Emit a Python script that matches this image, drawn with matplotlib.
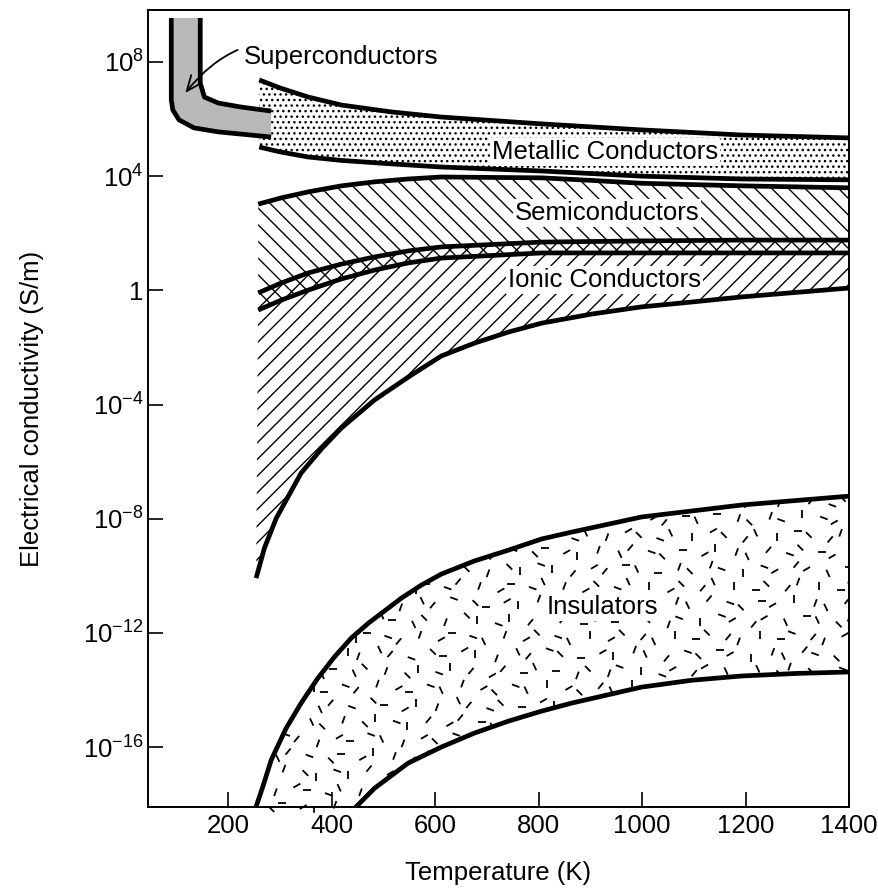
import numpy as np
import matplotlib
matplotlib.use("Agg")
import matplotlib.pyplot as plt
from matplotlib.collections import LineCollection
from matplotlib.ticker import NullLocator

plt.rcParams['font.family'] = ['Liberation Sans', 'DejaVu Sans']
plt.rcParams['mathtext.fontset'] = 'custom'
plt.rcParams['mathtext.rm'] = 'Liberation Sans'
plt.rcParams['hatch.linewidth'] = 1.0

# Temperatures in K, conductivities as log10(S/m)
super_outer_T = [90, 90, 93, 105, 134, 181, 283]
super_outer_s = [9.54, 6.67, 6.32, 5.97, 5.69, 5.55, 5.37]
super_inner_T = [146, 146, 154, 181, 225, 283]
super_inner_s = [9.54, 7.26, 6.77, 6.56, 6.42, 6.28]

metal_T = [260, 300, 355, 419, 515, 612, 806, 999, 1193, 1400]
metal_top = [7.37, 7.09, 6.77, 6.49, 6.25, 6.07, 5.83, 5.62, 5.44, 5.34]
metal_bot = [5.02, 4.85, 4.67, 4.55, 4.43, 4.32, 4.18, 4.00, 3.90, 3.87]

band_T = [258, 303, 355, 419, 483, 548, 612, 806, 903, 999, 1193, 1400]
semi_top = [3.02, 3.24, 3.45, 3.66, 3.80, 3.90, 3.97, 3.94, 3.85, 3.75, 3.66, 3.59]
semi_bot = [-0.69, -0.34, 0.01, 0.40, 0.71, 0.96, 1.13, 1.31, 1.31, 1.31, 1.31, 1.31]
ionic_top = [-0.09, 0.26, 0.61, 0.92, 1.17, 1.38, 1.52, 1.69, 1.71, 1.73, 1.76, 1.76]

ionic_bot_T = [254, 270, 293, 341, 380, 419, 483, 548, 612, 676, 742, 806, 903, 999,
               1096, 1193, 1400]
ionic_bot = [-10.08, -9.03, -7.98, -6.40, -5.56, -4.82, -3.84, -3.04, -2.30, -1.85,
             -1.46, -1.15, -0.83, -0.58, -0.41, -0.23, 0.08]

ins_top_T = [250, 268, 283, 312, 341, 372, 405, 438, 471, 535, 573, 612, 676, 742, 806,
             864, 999, 1193, 1400]
ins_top = [-18.3, -17.33, -16.46, -15.34, -14.46, -13.62, -12.85, -12.18, -11.66, -10.78,
           -10.33, -9.94, -9.48, -9.10, -8.71, -8.47, -7.94, -7.52, -7.21]
ins_bot_T = [436, 483, 548, 612, 676, 742, 806, 864, 999, 1096, 1193, 1300, 1400]
ins_bot = [-18.3, -17.44, -16.56, -16.00, -15.51, -15.09, -14.74, -14.46, -13.90, -13.66,
           -13.51, -13.42, -13.37]

xticks = [200, 400, 600, 800, 1000, 1200, 1400]
ytick_exps = [-16, -12, -8, -4, 0, 4, 8]
ytick_labels = [r'$\mathregular{10^{%d}}$' % e if e != 0 else '1' for e in ytick_exps]

FS = 18.5
LW = 3.4

fig = plt.figure(figsize=(8.79, 8.93), dpi=100)
ax = fig.add_axes([148 / 879, 1 - 807 / 893, (849 - 148) / 879, (807 - 10) / 893])
ax.set_yscale('log')


def p(v):
    return 10.0 ** np.asarray(v)


def outline(xs, ys):
    ax.plot(xs, p(ys), color='black', lw=LW, solid_capstyle='butt',
            solid_joinstyle='round', zorder=3)


# metallic conductors (dots)
ax.fill_between(metal_T, p(metal_bot), p(metal_top), facecolor='white',
                edgecolor='black', hatch='...', linewidth=0, zorder=1)
outline(metal_T, metal_top)
outline(metal_T, metal_bot)

# superconductors (grey)
sx = super_outer_T + super_inner_T[::-1]
sy = super_outer_s + super_inner_s[::-1]
ax.fill(sx, p(sy), facecolor='#b9b9b9', edgecolor='none', zorder=2)
outline(super_outer_T, super_outer_s)
outline(super_inner_T, super_inner_s)

# semiconductors and ionic conductors (hatched, overlap cross-hatched)
ax.fill_between(band_T, p(semi_bot), p(semi_top), facecolor='none',
                edgecolor='black', hatch='\\\\', linewidth=0, zorder=1)
ix = band_T + ionic_bot_T[::-1]
iy = ionic_top + ionic_bot[::-1]
ax.fill(ix, p(iy), facecolor='none', edgecolor='black', hatch='//', linewidth=0, zorder=1)
outline(band_T, semi_top)
outline(band_T, semi_bot)
outline(band_T, ionic_top)
outline(ionic_bot_T, ionic_bot)

# insulators (short dashes texture clipped to the band)
ins_patch = ax.fill(ins_top_T + ins_bot_T[::-1], p(ins_top + ins_bot[::-1]),
                    facecolor='white', edgecolor='none', zorder=1)[0]
W, H = 701.0, 797.0
step = 17.0
angles = [0, 50, 90, 135, 115, 30, 160, 70]
segs = []
for j in range(int(H * 0.45 / step)):
    for i in range(int(W / step) + 2):
        cx = (i * step + (j % 2) * step / 2 + ((i * 7 + j * 3) % 5 - 2) * 2.2) / W
        cy = (j * step + ((i * 3 + j * 5) % 5 - 2) * 2.2) / H
        a = np.deg2rad(angles[(i * 5 + j * 3 + (i * j) % 3) % len(angles)])
        dx = 4.0 * np.cos(a) / W
        dy = 4.0 * np.sin(a) / H
        segs.append([(cx - dx, cy - dy), (cx + dx, cy + dy)])
lc = LineCollection(segs, colors='black', linewidths=1.3, transform=ax.transAxes, zorder=2)
lc.set_clip_path(ins_patch)
ax.add_collection(lc, autolim=False)
outline(ins_top_T, ins_top)
outline(ins_bot_T, ins_bot)

# labels
box = dict(facecolor='white', edgecolor='none', pad=1.5)
ax.text(928, p(4.85), 'Metallic Conductors', fontsize=FS, ha='center', va='center',
        bbox=box, zorder=4)
ax.text(932, p(2.71), 'Semiconductors', fontsize=FS, ha='center', va='center',
        bbox=box, zorder=4)
ax.text(928, p(0.36), 'Ionic Conductors', fontsize=FS, ha='center', va='center',
        bbox=box, zorder=4)
ax.text(924, p(-11.1), 'Insulators', fontsize=FS, ha='center', va='center',
        bbox=box, zorder=4)
ax.annotate('Superconductors', xy=(117, p(6.91)), xytext=(231, p(8.18)),
            fontsize=FS, ha='left', va='center', zorder=4,
            arrowprops=dict(arrowstyle='->,head_length=0.6,head_width=0.25',
                            color='black', lw=1.3, shrinkA=3, shrinkB=0,
                            connectionstyle='arc3,rad=0.4'))

ax.set_xlim(45, 1400)
ax.set_ylim(p(-18.1), p(9.82))
ax.set_xticks(xticks)
ax.set_yticks(p(ytick_exps), ytick_labels)
ax.yaxis.set_minor_locator(NullLocator())
ax.tick_params(direction='in', length=10.5, width=1.2, labelsize=FS)
ax.tick_params(axis='x', pad=5)
ax.tick_params(axis='y', pad=3)
for s in ax.spines.values():
    s.set_linewidth(1.4)

ax.set_xlabel('Temperature (K)', fontsize=FS)
ax.set_ylabel('Electrical conductivity (S/m)', fontsize=FS)
ax.xaxis.set_label_coords(0.5, -0.068)
ax.yaxis.set_label_coords(-0.148, 0.5)

fig.savefig('out.png', dpi=100)
